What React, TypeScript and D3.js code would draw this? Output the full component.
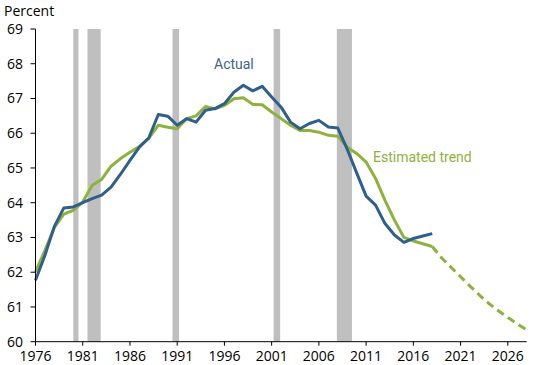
import React from 'react';
import * as d3 from 'd3';

const actualStart = 1976;
const actual = [61.77, 62.49, 63.32, 63.85, 63.88, 64.0, 64.12, 64.22, 64.45, 64.82, 65.22, 65.6, 65.87, 66.54, 66.49, 66.23, 66.42, 66.32, 66.66, 66.71, 66.85, 67.18, 67.38, 67.22, 67.35, 67.04, 66.75, 66.32, 66.13, 66.28, 66.37, 66.18, 66.15, 65.54, 64.86, 64.19, 63.93, 63.4, 63.07, 62.86, 62.97, 63.04, 63.11];
const trend = [62.01, 62.63, 63.29, 63.67, 63.78, 64.02, 64.5, 64.67, 65.05, 65.27, 65.45, 65.62, 65.85, 66.23, 66.17, 66.13, 66.42, 66.5, 66.77, 66.7, 66.8, 66.99, 67.02, 66.83, 66.82, 66.61, 66.42, 66.23, 66.08, 66.08, 66.03, 65.94, 65.91, 65.6, 65.42, 65.17, 64.7, 64.07, 63.5, 63.0, 62.9, 62.82, 62.74];
const projectionStart = 2018;
const projection = [62.74, 62.41, 62.14, 61.87, 61.6, 61.34, 61.1, 60.89, 60.7, 60.51, 60.34];
const recessions: [number, number][] = [[1980.0, 1980.55], [1981.5, 1982.9], [1990.5, 1991.2], [2001.2, 2001.9], [2007.9, 2009.5]];
const xTicks = [1976, 1981, 1986, 1991, 1996, 2001, 2006, 2011, 2016, 2021, 2026];
const yTicks = [60, 61, 62, 63, 64, 65, 66, 67, 68, 69];

const BLUE = '#2f5f8c';
const GREEN = '#8db33c';
const tickFont = '"Open Sans", "Noto Sans", sans-serif';
const labelFont = 'Roboto, sans-serif';

const App: React.FC = () => {
  const width = 550;
  const height = 365;

  const x = d3.scaleLinear().domain([1976, 2028]).range([35.5, 526.7]);
  const y = d3.scaleLinear().domain([60, 69]).range([341.7, 29]);

  const line = d3.line<[number, number]>()
    .x(d => x(d[0]))
    .y(d => y(d[1]))
    .curve(d3.curveLinear);

  const toPts = (start: number, vals: number[]) => vals.map((v, i) => [start + i, v] as [number, number]);

  return (
    <svg width={width} height={height} style={{ position: 'fixed', left: 0, top: 0, background: '#fff' }}>
      {recessions.map(([a, b], i) => (
        <rect key={i} x={x(a)} y={y(69)} width={x(b) - x(a)} height={y(60) - y(69)} fill="#bfbfbf" />
      ))}

      <path d={line(toPts(projectionStart, projection)) || ''} fill="none" stroke={GREEN} strokeWidth={3} strokeDasharray="8,5" />
      <path d={line(toPts(actualStart, trend)) || ''} fill="none" stroke={GREEN} strokeWidth={3} strokeLinejoin="round" />
      <path d={line(toPts(actualStart, actual)) || ''} fill="none" stroke={BLUE} strokeWidth={3} strokeLinejoin="round" />

      {/* axes */}
      <line x1={x(1976)} x2={x(1976)} y1={y(69)} y2={y(60)} stroke="#000" strokeWidth={1} />
      <line x1={x(1976)} x2={x(2028)} y1={y(60)} y2={y(60)} stroke="#000" strokeWidth={1} />
      {yTicks.map(t => (
        <g key={t}>
          <line x1={x(1976) - 5} x2={x(1976)} y1={y(t)} y2={y(t)} stroke="#000" />
          <text x={23} y={y(t)} dy="0.35em" textAnchor="end" fontFamily={tickFont} fontSize={14} fill="#000">{t}</text>
        </g>
      ))}
      {xTicks.map(t => (
        <g key={t}>
          <line x1={x(t)} x2={x(t)} y1={y(60)} y2={y(60) + 4} stroke="#000" />
          <text x={x(t)} y={361} textAnchor="middle" fontFamily={tickFont} fontSize={14} fill="#000">{t}</text>
        </g>
      ))}

      <text x={4} y={16} fontFamily={tickFont} fontSize={14} fill="#000">Percent</text>
      <text x={214} y={69} fontFamily={labelFont} fontSize={14} fill="#3c6484">Actual</text>
      <text x={373} y={162} fontFamily={labelFont} fontSize={14} fill={GREEN}>Estimated trend</text>
    </svg>
  );
};

export default App;
